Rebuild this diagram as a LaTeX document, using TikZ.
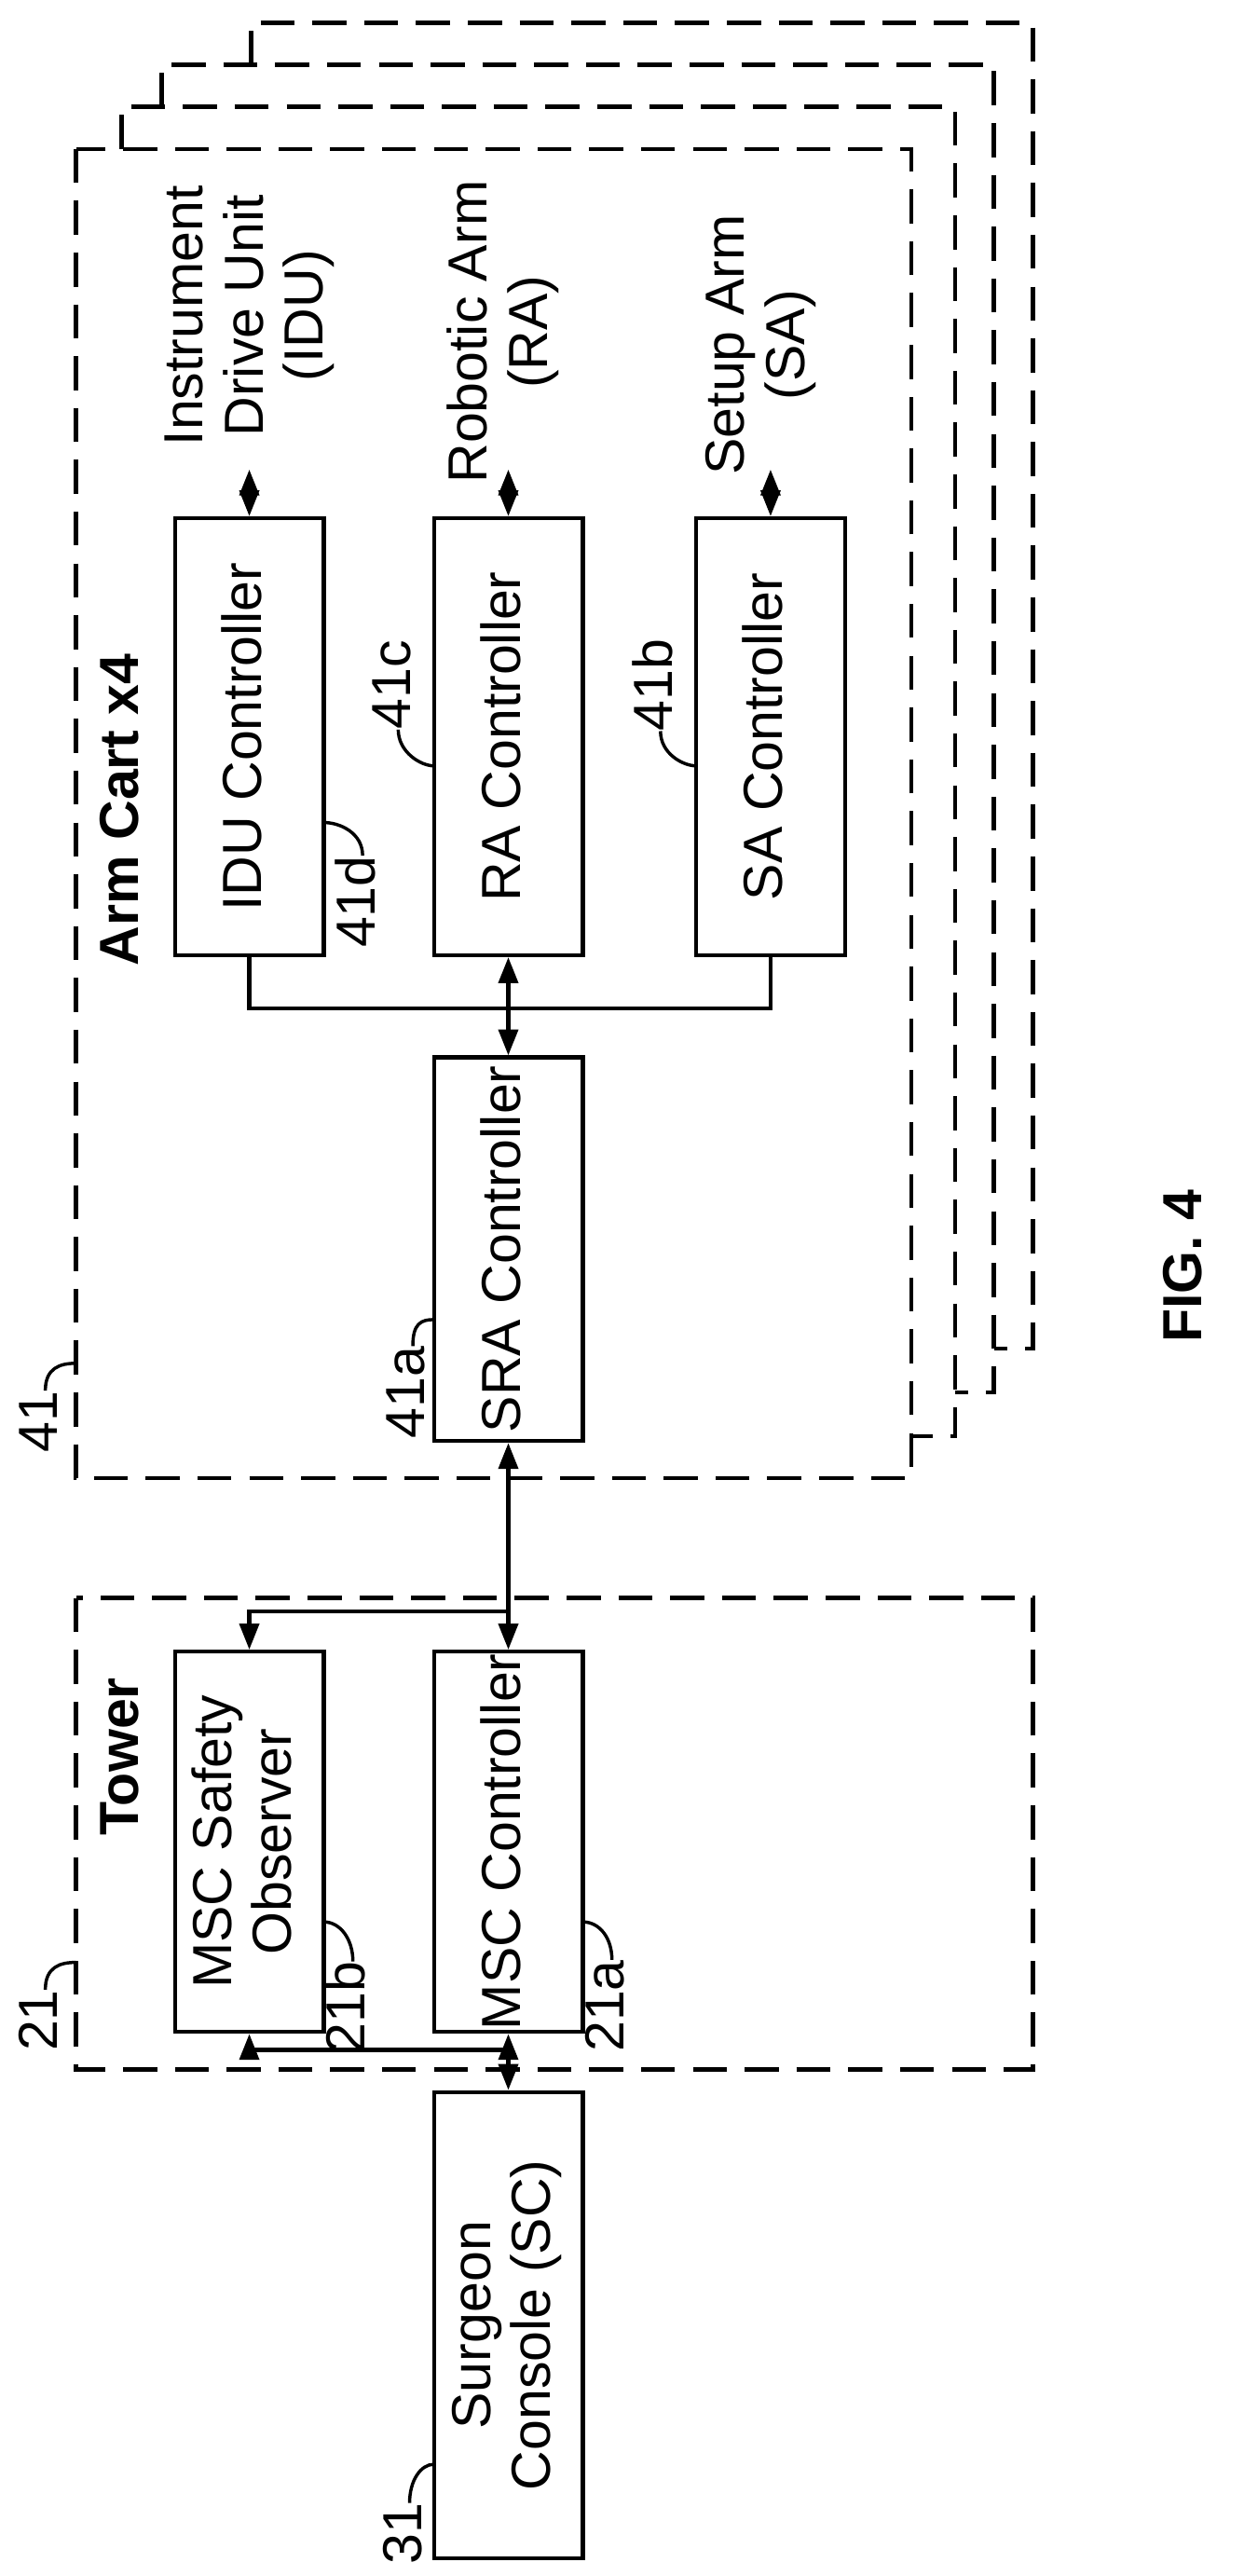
\documentclass[tikz,border=0pt]{standalone}
\usepackage{fontspec}
\setmainfont{Liberation Sans}
\usetikzlibrary{arrows.meta}
\newcommand{\vtext}[1]{\rotatebox{90}{\begin{tabular}{@{}c@{}}#1\end{tabular}}}
\begin{document}
\begin{tikzpicture}[x=1pt,y=-1pt,
    txt/.style={font=\fontsize{34}{37}\selectfont,inner sep=0pt},
    ctl/.style={draw,line width=2.4pt,minimum width=92pt,inner sep=0pt,font=\fontsize{34}{37}\selectfont},
    frame/.style={line width=2.6pt,dash pattern=on 21pt off 11pt},
    wire/.style={line width=2.4pt},
    dbl/.style={wire,{Triangle[length=16pt,width=12pt]}-{Triangle[length=16pt,width=12pt]}},
    tip/.style={wire,-{Triangle[length=16pt,width=12pt]}},
    lead/.style={line width=2pt}]
            \useasboundingbox (0,0) rectangle (768,1591);

            % arm cart frames
            \draw[frame] (155,40) -- (155,14) -- (638,14) -- (638,833) -- (614,833);
            \draw[frame] (100,66) -- (100,40) -- (614,40) -- (614,860) -- (590,860);
            \draw[frame] (75,92) -- (75,66) -- (590,66) -- (590,887) -- (563,887);
            \draw[frame] (47,92) rectangle (563,913);
            \draw[frame] (47,987) rectangle (638,1278);

            \node[txt,font=\fontsize{34}{37}\selectfont\bfseries] (armcart) at (78,500){\vtext{Arm Cart x4}};
            \node[txt,font=\fontsize{34}{37}\selectfont\bfseries] (tower) at (78,1085){\vtext{Tower}};
            \node[txt,font=\fontsize{34}{37}\selectfont\bfseries] (fig) at (735,782){\vtext{FIG. 4}};

            \node[ctl,minimum height=270pt] (idu) at (154,455){\vtext{IDU Controller}};
            \node[ctl,minimum height=270pt] (ra) at (314,455){\vtext{RA Controller}};
            \node[ctl,minimum height=270pt] (sa) at (476,455){\vtext{SA Controller}};
            \node[ctl,minimum height=237pt] (sra) at (314,771.5){\vtext{SRA Controller}};
            \node[ctl,minimum height=235pt] (safe) at (154,1137.5){\vtext{MSC Safety\\Observer}};
            \node[ctl,minimum height=235pt] (msc) at (314,1137.5){\vtext{MSC Controller}};
            \node[ctl,minimum height=288pt] (sc) at (314,1436){\vtext{Surgeon\\Console (SC)}};

            \node[txt] (idutxt) at (155,195){\vtext{Instrument\\Drive Unit\\(IDU)}};
            \node[txt] (ratxt) at (312,205){\vtext{Robotic Arm\\(RA)}};
            \node[txt] (satxt) at (471,213){\vtext{Setup Arm\\(SA)}};
            \coordinate (iduend) at (154,290);
            \coordinate (raend) at (314,290);
            \coordinate (saend) at (476,290);
            \draw[dbl] (iduend) -- (idu.north);
            \draw[dbl] (raend) -- (ra.north);
            \draw[dbl] (saend) -- (sa.north);

            \coordinate (bus) at (314,623);
            \draw[wire] (idu.south) |- (bus) -| (sa.south);
            \draw[dbl] (sra.north) -- (ra.south);
            \draw[dbl] (sra.south) -- (msc.north);
            \draw[dbl] (msc.south) -- (sc.north);
            \coordinate (jtop) at (314,995);
            \coordinate (jbot) at (314,1266);
            \draw[tip] (jtop) -| (safe.north);
            \draw[tip] (jbot) -| (safe.south);

            % reference numerals
            \node[txt] (n41) at (28,878){\vtext{41}};
            \node[txt] (n41a) at (255,860){\vtext{41a}};
            \node[txt] (n41d) at (224,557){\vtext{41d}};
            \node[txt] (n41c) at (246,423){\vtext{41c}};
            \node[txt] (n41b) at (408,423){\vtext{41b}};
            \node[txt] (n21) at (28,1248){\vtext{21}};
            \node[txt] (n21b) at (218,1240){\vtext{21b}};
            \node[txt] (n21a) at (378,1239){\vtext{21a}};
            \node[txt] (n31) at (253,1565){\vtext{31}};
            \coordinate (c41) at (47,842);
            \coordinate (c41a) at (268,815);
            \coordinate (c41d) at (200,508);
            \coordinate (c41c) at (268,473);
            \coordinate (c41b) at (430,473);
            \coordinate (c21) at (47,1212);
            \coordinate (c21b) at (200,1187);
            \coordinate (c21a) at (360,1187);
            \coordinate (c31) at (268,1522);
            \draw[lead] (n41.north) .. controls +(0,-14) and +(-10,0) .. (c41);
            \draw[lead] (n41a.north) .. controls +(0,-14) and +(-8,0) .. (c41a);
            \draw[lead] (n41d.north) .. controls +(0,-14) and +(10,0) .. (c41d);
            \draw[lead] (n41c.south) .. controls +(0,14) and +(-8,0) .. (c41c);
            \draw[lead] (n41b.south) .. controls +(0,14) and +(-8,0) .. (c41b);
            \draw[lead] (n21.north) .. controls +(0,-14) and +(-10,0) .. (c21);
            \draw[lead] (n21b.north) .. controls +(0,-14) and +(10,0) .. (c21b);
            \draw[lead] (n21a.north) .. controls +(0,-14) and +(10,0) .. (c21a);
            \draw[lead] (n31.north) .. controls +(0,-14) and +(-8,0) .. (c31);
        \end{tikzpicture}
\end{document}
